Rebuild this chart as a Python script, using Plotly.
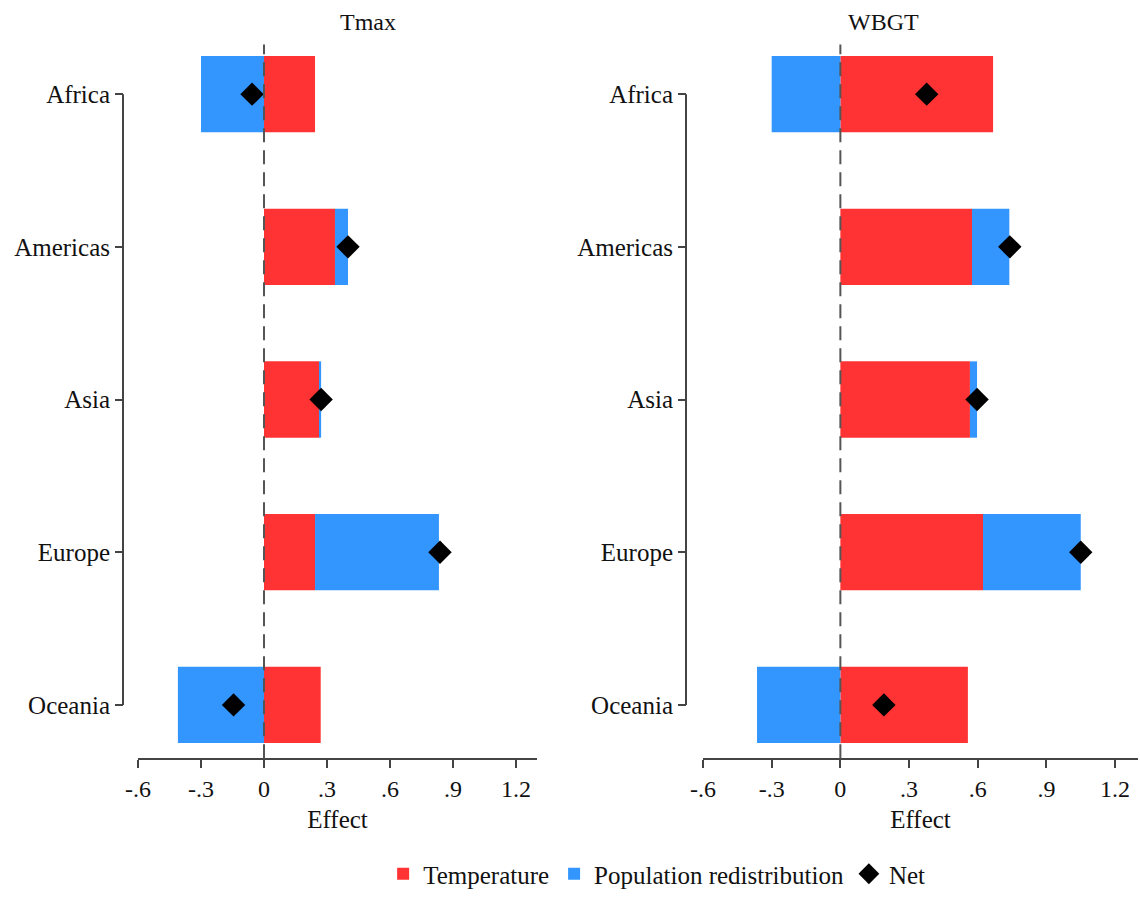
import plotly.graph_objects as go

regions = ["Africa", "Americas", "Asia", "Europe", "Oceania"]
region_pos = [1, 2, 3, 4, 5]

tmax_temperature = [0.243, 0.338, 0.262, 0.243, 0.270]
tmax_population = [-0.300, 0.062, 0.010, 0.590, -0.410]
tmax_net = [-0.057, 0.400, 0.272, 0.838, -0.145]

wbgt_temperature = [0.667, 0.575, 0.566, 0.623, 0.557]
wbgt_population = [-0.300, 0.163, 0.031, 0.427, -0.364]
wbgt_net = [0.377, 0.740, 0.597, 1.050, 0.190]

x_tickvals = [-0.6, -0.3, 0, 0.3, 0.6, 0.9, 1.2]
x_ticktext = ["-.6", "-.3", "0", ".3", ".6", ".9", "1.2"]

RED = "rgb(255,51,51)"
BLUE = "rgb(51,150,255)"
FONT = "Liberation Serif"
AXC = "#444444"
TXT = "#111111"
W, H = 1140, 897


def py(v):
    """pixel row (from top) -> paper fraction"""
    return (H - v) / H


fig = go.Figure()

panels = [
    ("x", "y", tmax_temperature, tmax_population, tmax_net, True),
    ("x2", "y2", wbgt_temperature, wbgt_population, wbgt_net, False),
]
for xa, ya, temp, pop, net, show in panels:
    fig.add_trace(go.Bar(x=temp, y=region_pos, orientation="h", width=0.5,
                         marker=dict(color=RED, line=dict(width=0)),
                         name="Temperature", legendgroup="t", showlegend=show,
                         xaxis=xa, yaxis=ya))
    fig.add_trace(go.Bar(x=pop, y=region_pos, orientation="h", width=0.5,
                         marker=dict(color=BLUE, line=dict(width=0)),
                         name="Population redistribution", legendgroup="p",
                         showlegend=show, xaxis=xa, yaxis=ya))
    fig.add_trace(go.Scatter(x=net, y=region_pos, mode="markers",
                             marker=dict(symbol="diamond", size=18, color="black"),
                             name="Net", legendgroup="n", showlegend=show,
                             xaxis=xa, yaxis=ya))

xdom1 = [138 / W, 537 / W]
xdom2 = [703 / W, 1138 / W]
ydom = [py(766), py(45)]

xcommon = dict(range=[-0.6, 1.3], tickvals=x_tickvals, ticktext=x_ticktext,
               showline=True, linecolor=AXC, linewidth=2, ticks="outside",
               ticklen=8, tickwidth=2, tickcolor=AXC, showgrid=False,
               zeroline=False, automargin=False,
               tickfont=dict(size=24, family=FONT, color=TXT),
               title=dict(text="Effect", font=dict(size=25, family=FONT, color=TXT),
                          standoff=9))
ycommon = dict(range=[5.35, 0.675], tickvals=region_pos, ticktext=regions,
               showline=False, ticks="outside", ticklen=8, tickwidth=2,
               tickcolor=AXC, showgrid=False, zeroline=False, automargin=False,
               domain=ydom, tickfont=dict(size=25, family=FONT, color=TXT))

fig.update_layout(
    width=W, height=H, autosize=False,
    margin=dict(l=0, r=0, t=0, b=0),
    paper_bgcolor="white", plot_bgcolor="white",
    barmode="relative",
    font=dict(family=FONT, color=TXT),
    xaxis=dict(domain=xdom1, anchor="y", **xcommon),
    xaxis2=dict(domain=xdom2, anchor="y2", **xcommon),
    yaxis=dict(anchor="free", position=123 / W, **ycommon),
    yaxis2=dict(anchor="free", position=686 / W, **ycommon),
    legend=dict(orientation="h", x=0.576, xanchor="center", y=py(883),
                yanchor="middle", font=dict(size=25, family=FONT, color=TXT),
                itemwidth=30, traceorder="normal"),
    showlegend=True,
)

# dashed zero lines and y-axis spines
for xa, ya, off in [("x", "y", (123 - 138) / 399), ("x2", "y2", (686 - 703) / 435)]:
    fig.add_shape(type="line", xref=xa, yref=ya + " domain", x0=0, x1=0, y0=0, y1=1,
                  line=dict(color="#555555", width=2, dash="14px,8px"), layer="above")
    fig.add_shape(type="line", xref=xa + " domain", yref=ya, x0=off, x1=off,
                  y0=region_pos[0], y1=region_pos[-1],
                  line=dict(color=AXC, width=2))

title_y = py(22)
fig.add_annotation(text="Tmax", x=(xdom1[0] + xdom1[1]) / 2, y=title_y, xref="paper",
                   yref="paper", showarrow=False, yanchor="middle",
                   font=dict(size=24, family=FONT, color=TXT))
fig.add_annotation(text="WBGT", x=(xdom2[0] + xdom2[1]) / 2, y=title_y, xref="paper",
                   yref="paper", showarrow=False, yanchor="middle",
                   font=dict(size=24, family=FONT, color=TXT))

page_fix = (
    "var r=document.documentElement,b=document.body;"
    "r.style.margin='0';r.style.padding='0';"
    "b.style.margin='0';b.style.padding='0';b.style.overflow='hidden';"
)
fig.write_html("out.html", config={"displayModeBar": False, "responsive": False},
               post_script=page_fix)
